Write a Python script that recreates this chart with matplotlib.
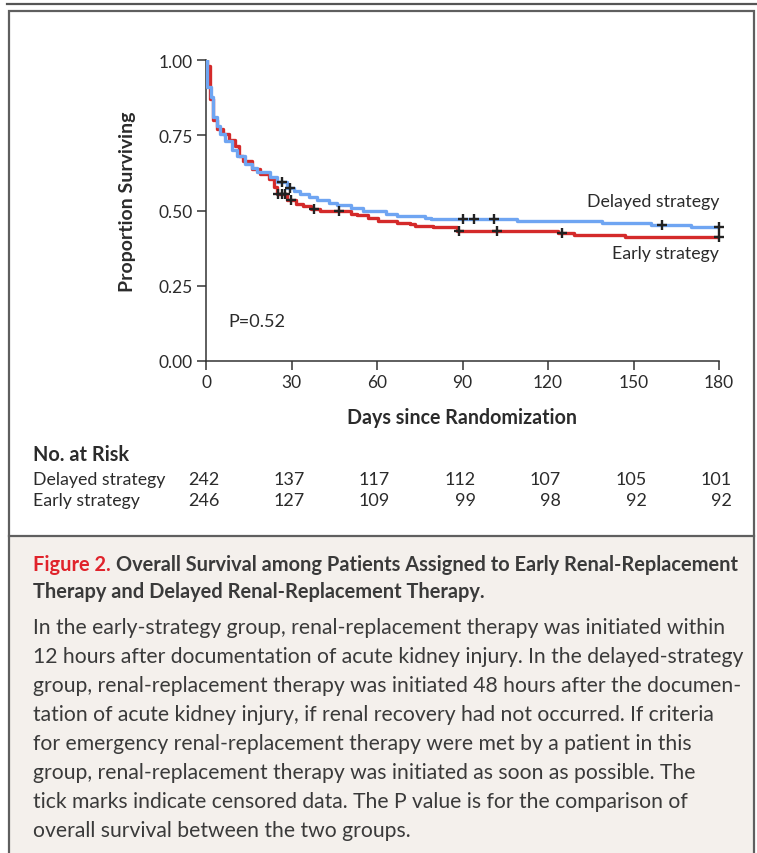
import numpy as np
import matplotlib
matplotlib.use("Agg")
import matplotlib.pyplot as plt
from matplotlib.patches import Rectangle
from matplotlib.lines import Line2D
import matplotlib.transforms as mtransforms

# Kaplan-Meier steps (day, proportion surviving)
delayed_days = [0, 0.5, 1.8, 2.6, 3.7, 4.9, 6.7, 9, 10.8, 13.7, 16, 18, 22.5, 25, 28.5,
                31, 33, 36, 39, 43, 46, 51, 55, 63, 67, 77, 79, 109, 139, 156, 170, 180]
delayed_surv = [1.0, 0.91, 0.877, 0.81, 0.78, 0.755, 0.73, 0.70, 0.68, 0.655, 0.64, 0.627,
                0.61, 0.594, 0.574, 0.566, 0.555, 0.545, 0.536, 0.525, 0.519, 0.507, 0.50,
                0.49, 0.483, 0.476, 0.472, 0.466, 0.46, 0.453, 0.444, 0.444]
delayed_censor = [26.6, 29.5, 90, 94, 101, 160, 180]

early_days = [0, 0.2, 1.5, 2.5, 4, 6, 8, 10, 11.5, 13, 16, 19, 22, 24, 25, 28.5, 31.5,
              34, 37, 40, 51, 53, 57, 60.4, 67, 71.6, 73.3, 79.8, 88, 123.5, 129, 147, 180]
early_surv = [1.0, 0.98, 0.87, 0.80, 0.77, 0.755, 0.735, 0.715, 0.682, 0.665, 0.638, 0.621,
              0.605, 0.577, 0.555, 0.535, 0.522, 0.514, 0.505, 0.497, 0.49, 0.485, 0.474,
              0.466, 0.46, 0.455, 0.45, 0.445, 0.433, 0.425, 0.42, 0.413, 0.413]
early_censor = [25.3, 26.5, 27.7, 29.8, 37.9, 46.7, 88.8, 102, 125, 180]

risk_days = [0, 30, 60, 90, 120, 150, 180]
risk_delayed = [242, 137, 117, 112, 107, 105, 101]
risk_early = [246, 127, 109, 99, 98, 92, 92]

caption_label = "Figure 2."
caption_title = ["Overall Survival among Patients Assigned to Early Renal-Replacement",
                 "Therapy and Delayed Renal-Replacement Therapy."]
caption_body = [
    "In the early-strategy group, renal-replacement therapy was initiated within",
    "12 hours after documentation of acute kidney injury. In the delayed-strategy",
    "group, renal-replacement therapy was initiated 48 hours after the documen-",
    "tation of acute kidney injury, if renal recovery had not occurred. If criteria",
    "for emergency renal-replacement therapy were met by a patient in this",
    "group, renal-replacement therapy was initiated as soon as possible. The",
    "tick marks indicate censored data. The P value is for the comparison of",
    "overall survival between the two groups.",
]

BLUE = '#6fa5f2'
RED = '#d42a2a'
INK = '#2b2b2b'
CAP = '#3a3a3a'
plt.rcParams['font.family'] = ['Lato', 'DejaVu Sans']

W, H = 757, 854
fig = plt.figure(figsize=(W / 100, H / 100), dpi=100)
fig.patch.set_facecolor('white')
renderer = fig.canvas.get_renderer()


def fy(py):
    return 1 - py / H


def fx(px):
    return px / W


def width_px(txt):
    return txt.get_window_extent(renderer=renderer).width


def fit(txt, target, horizontal=True):
    # rescale a text so its drawn length matches a target in pixels
    bb = txt.get_window_extent(renderer=renderer)
    cur = bb.width if horizontal else bb.height
    txt.set_fontsize(txt.get_fontsize() * target / cur)
    return txt


# frame, caption panel and top rule
fig.add_artist(Rectangle((fx(9), 0), fx(745), fy(537), transform=fig.transFigure,
                         facecolor='#f4f0ec', edgecolor='none', zorder=0))
fig.add_artist(Rectangle((fx(9), fy(860)), fx(745), fy(12) - fy(860),
                         transform=fig.transFigure, facecolor='none',
                         edgecolor='#5f5f5f', lw=1.6, zorder=1))
fig.add_artist(Line2D([fx(9), fx(754)], [fy(537), fy(537)], transform=fig.transFigure,
                      color='#5f5f5f', lw=1.6))
fig.add_artist(Line2D([fx(7), 1], [fy(5), fy(5)], transform=fig.transFigure,
                      color='#555555', lw=1.6))

ax = fig.add_axes([fx(206), fy(362), fx(513), 301 / H])
ax.step(early_days, early_surv, where='post', color=RED, lw=2.4, zorder=3)
ax.step(delayed_days, delayed_surv, where='post', color=BLUE, lw=2.4, zorder=4)


def at(days, surv, t):
    i = np.searchsorted(days, t, side='right') - 1
    return surv[i]


ax.plot(early_censor, [at(early_days, early_surv, t) for t in early_censor], '+',
        color='#222222', ms=7.5, mew=1.7, zorder=5, clip_on=False)
ax.plot(delayed_censor, [at(delayed_days, delayed_surv, t) for t in delayed_censor], '+',
        color='#222222', ms=7.5, mew=1.7, zorder=5, clip_on=False)

ax.set_xlim(0, 180)
ax.set_ylim(0, 1)
ax.set_xticks(risk_days)
ax.set_yticks([0, 0.25, 0.5, 0.75, 1.0])
ax.set_yticklabels(['0.00', '0.25', '0.50', '0.75', '1.00'])
for s in ['top', 'right']:
    ax.spines[s].set_visible(False)
for s in ['left', 'bottom']:
    ax.spines[s].set_color('#333333')
    ax.spines[s].set_linewidth(1.1)
ax.tick_params(direction='out', length=6.5, width=1.1, color='#333333',
               labelsize=12.5, labelcolor=INK, pad=3)
ax.set_facecolor('none')

fit(ax.text(180, 0.505, 'Delayed strategy', ha='right', va='bottom', fontsize=13,
            color=INK), 132)
fit(ax.text(180, 0.36, 'Early strategy', ha='right', va='center', fontsize=13,
            color=INK), 107)
fit(ax.text(7.7, 0.133, 'P=0.52', ha='left', va='center', fontsize=12.5, color=INK), 57)

fit(fig.text(fx(128), fy(202), 'Proportion Surviving', rotation=90, ha='center',
             va='center', fontsize=13, fontweight='bold', color=INK), 180, horizontal=False)
fit(fig.text(fx(462), fy(418), 'Days since Randomization', ha='center', va='center',
             fontsize=13, fontweight='bold', color=INK), 230)

# numbers at risk below the axis
fit(fig.text(fx(33), fy(455), 'No. at Risk', ha='left', va='center', fontsize=13,
             fontweight='bold', color=INK), 96)
trans = mtransforms.blended_transform_factory(ax.transData, fig.transFigure)
for label, counts, py in [('Delayed strategy', risk_delayed, 480),
                          ('Early strategy', risk_early, 501)]:
    fit(fig.text(fx(33), fy(py), label, ha='left', va='center', fontsize=12.5,
                 color=INK), 133 if label.startswith('Delayed') else 107)
    for d, n in zip(risk_days, counts):
        ax.text(d + 4.6, fy(py), str(n), transform=trans, ha='right', va='center',
                fontsize=13, color=INK)

# caption: bold title with red figure label, then the legend text
full = fig.text(fx(33), fy(565), caption_label + ' ' + caption_title[0], ha='left',
                va='center', fontsize=14, fontweight='bold')
fit(full, 709)
tsize = full.get_fontsize()
full.remove()
lab = fig.text(fx(33), fy(565), caption_label + ' ', ha='left', va='center',
               fontsize=tsize, fontweight='bold', color='#e0232b')
fig.text(fx(33 + width_px(lab)), fy(565), caption_title[0], ha='left', va='center',
         fontsize=tsize, fontweight='bold', color=CAP)
fig.text(fx(33), fy(592), caption_title[1], ha='left', va='center', fontsize=tsize,
         fontweight='bold', color=CAP)

probe = fig.text(fx(33), fy(628), caption_body[0], ha='left', va='center', fontsize=14)
fit(probe, 694)
bsize = probe.get_fontsize()
probe.remove()
for i, line in enumerate(caption_body):
    fig.text(fx(33), fy(628 + 29 * i), line, ha='left', va='center', fontsize=bsize,
             color=CAP)

fig.savefig('out.png', dpi=100)
